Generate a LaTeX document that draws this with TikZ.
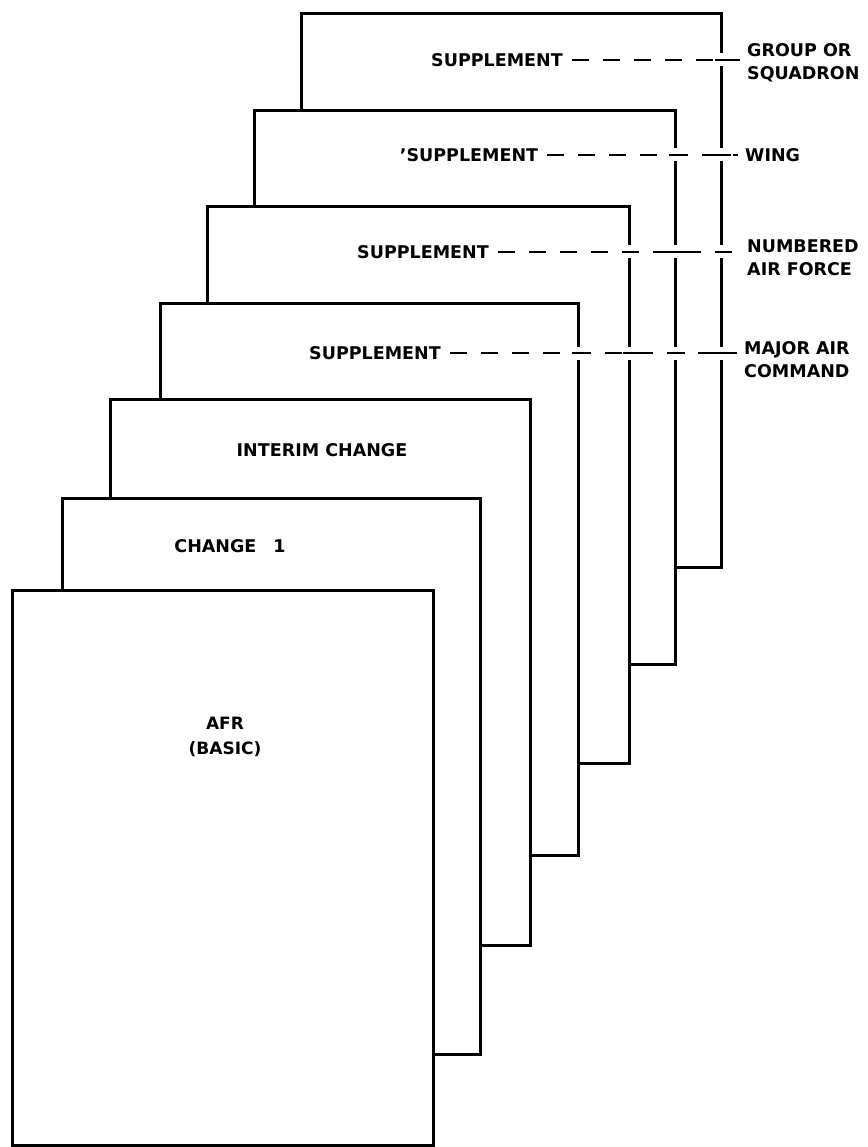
\documentclass[tikz,border=0pt]{standalone}
\usepackage{fontspec}
\setmainfont{DejaVu Sans}
\begin{document}
\begin{tikzpicture}[x=1pt,y=-1pt,
  sheet/.style={draw=black, fill=white, line width=3pt, anchor=north west, inner sep=0pt},
  lbl/.style={font=\fontsize{17.5}{23}\selectfont\bfseries, inner ysep=0pt, inner xsep=9pt},
  tag/.style={lbl, align=left, anchor=west, inner xsep=7pt},
  lead/.style={line width=2.6pt, dash pattern=on 17pt off 14pt,
    preaction={draw=white, solid, line width=13pt}},
  crossbar/.style={line width=2.6pt}
]
\useasboundingbox[fill=white] (0,0) rectangle (867,1147);

% sheets, back to front
\node[sheet, minimum width=420pt, minimum height=554pt] (p7) at (300,12) {};
\node[sheet, minimum width=421pt, minimum height=554pt] (p6) at (253,109) {};
\node[sheet, minimum width=422pt, minimum height=557pt] (p5) at (206,205) {};
\node[sheet, minimum width=418pt, minimum height=552pt] (p4) at (159,302) {};
\node[sheet, minimum width=420pt, minimum height=546pt] (p3) at (109,398) {};
\node[sheet, minimum width=418pt, minimum height=556pt] (p2) at (61,497) {};
\node[sheet, minimum width=421pt, minimum height=555pt] (p1) at (11,589) {};

% sheet titles
\node[lbl] (s7) at (497,60) {SUPPLEMENT};
\node[lbl] (s6) at (469,155) {'SUPPLEMENT};
\node[lbl] (s5) at (423,252) {SUPPLEMENT};
\node[lbl] (s4) at (375,353) {SUPPLEMENT};
\node[lbl] (ic) at (322,450) {INTERIM CHANGE};
\node[lbl] (c1) at (230,546) {CHANGE\hspace{17pt}1};
\node[lbl, align=center, font=\fontsize{17}{25}\selectfont\bfseries] (afr) at (225,737) {AFR\\(BASIC)};

% level labels
\node[tag] (g7) at (740,63) {GROUP OR\\SQUADRON};
\node[tag] (g6) at (738,155) {WING};
\node[tag] (g5) at (740,258) {NUMBERED\\AIR FORCE};
\node[tag] (g4) at (737,360) {MAJOR AIR\\COMMAND};

% leaders
\draw[lead] (s7.east) -- (s7.east -| g7.west);
\draw[lead] (s6.east) -- (s6.east -| g6.west);
\draw[lead] (s5.east) -- (s5.east -| g5.west);
\draw[lead] (s4.east) -- (s4.east -| g4.west);

% dash pieces where the leaders cross sheet edges
\foreach \s/\p in {s7/p7, s6/p6, s6/p7, s5/p5, s5/p6, s5/p7, s4/p4, s4/p5, s4/p6, s4/p7}
  \draw[crossbar] (\p.east |- \s.east) ++(-8,0) -- ++(16,0);
\end{tikzpicture}
\end{document}
